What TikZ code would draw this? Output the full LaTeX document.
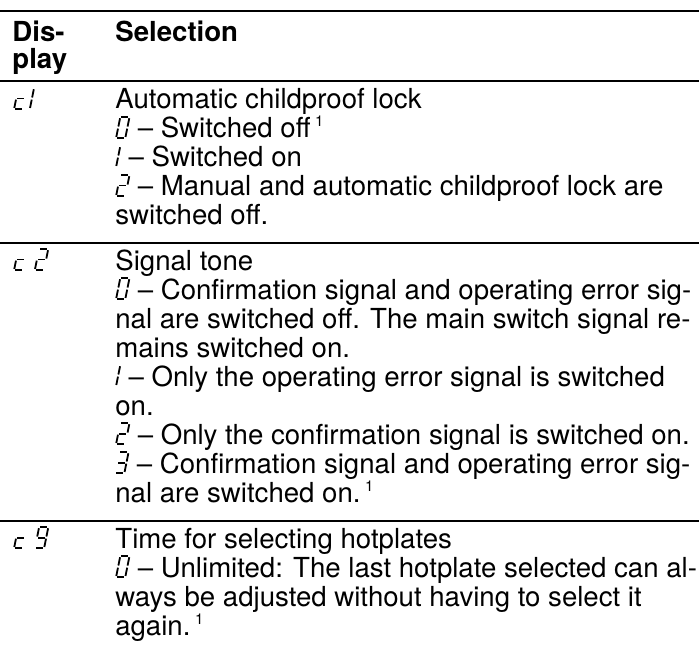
\documentclass[tikz,border=0pt]{standalone}
\usepackage{fontspec}
\setmainfont{TeX Gyre Heros}
\begin{document}
\begin{tikzpicture}[x=0.5pt,y=-0.5pt,
  txt/.style={anchor=base west,inner sep=0pt,font=\fontsize{13.8}{14.5}\selectfont},
  head/.style={txt,font=\fontsize{13.8}{14.5}\selectfont\bfseries},
  rule/.style={line width=0.6pt}]
\newcommand{\sega}{\draw (0.12,2) -- (0.88,2);}
\newcommand{\segb}{\draw (1,1.9) -- (1,1.1);}
\newcommand{\segc}{\draw (1,0.9) -- (1,0.1);}
\newcommand{\segd}{\draw (0.12,0) -- (0.88,0);}
\newcommand{\sege}{\draw (0,0.1) -- (0,0.9);}
\newcommand{\segf}{\draw (0,1.1) -- (0,1.9);}
\newcommand{\segg}{\draw (0.12,1) -- (0.88,1);}
\newcommand{\lcd}[1]{\tikz[baseline=0pt,x=4.6pt,y=5.2pt,xslant=0.2,line width=0.9pt]{\foreach \s in {#1} {\csname seg\s\endcsname}}}
\newcommand{\fn}{\,\raisebox{5.5pt}{\fontsize{7.5}{8}\selectfont 1}}

\useasboundingbox (0,0) rectangle (699,646);
\draw [rule] (0,11) -- (699,11);
\node (hdis) [head] at (12,42) {Dis-};
\node (hplay) [head] at (12,69) {play};
\node (hsel) [head] at (115,42) {Selection};
\draw [rule] (0,81) -- (699,81);

\node (disp1) [txt] at (13,109) {\lcd{d,e,g}\hspace{2pt}\lcd{b,c}};
\node (sel1a) [txt] at (115,109) {Automatic childproof lock};
\node (sel1b) [txt] at (115,138) {\lcd{a,b,c,d,e,f} – Switched off\fn};
\node (sel1c) [txt] at (115,167) {\lcd{b,c} – Switched on};
\node (sel1d) [txt] at (115,196) {\lcd{a,b,g,e,d} – Manual and automatic childproof lock are};
\node (sel1e) [txt] at (115,225) {switched off.};
\draw [rule] (0,243) -- (699,243);

\node (disp2) [txt] at (13,270) {\lcd{d,e,g}\hspace{4.5pt}\lcd{a,b,g,e,d}};
\node (sel2a) [txt] at (115,270) {Signal tone};
\node (sel2b) [txt] at (115,299) {\lcd{a,b,c,d,e,f} – Confirmation signal and operating error sig-};
\node (sel2c) [txt] at (115,328) {nal are switched off. The main switch signal re-};
\node (sel2d) [txt] at (115,357) {mains switched on.};
\node (sel2e) [txt] at (115,386) {\lcd{b,c} – Only the operating error signal is switched};
\node (sel2f) [txt] at (115,415) {on.};
\node (sel2g) [txt] at (115,444) {\lcd{a,b,g,e,d} – Only the confirmation signal is switched on.};
\node (sel2h) [txt] at (115,473) {\lcd{a,b,g,c,d} – Confirmation signal and operating error sig-};
\node (sel2i) [txt] at (115,502) {nal are switched on.\fn};
\draw [rule] (0,521) -- (699,521);

\node (disp3) [txt] at (13,548) {\lcd{d,e,g}\hspace{5pt}\lcd{a,b,c,d,f,g}};
\node (sel3a) [txt] at (115,548) {Time for selecting hotplates};
\node (sel3b) [txt] at (115,577) {\lcd{a,b,c,d,e,f} – Unlimited: The last hotplate selected can al-};
\node (sel3c) [txt] at (115,606) {ways be adjusted without having to select it};
\node (sel3d) [txt] at (115,635) {again.\fn};
\end{tikzpicture}
\end{document}
